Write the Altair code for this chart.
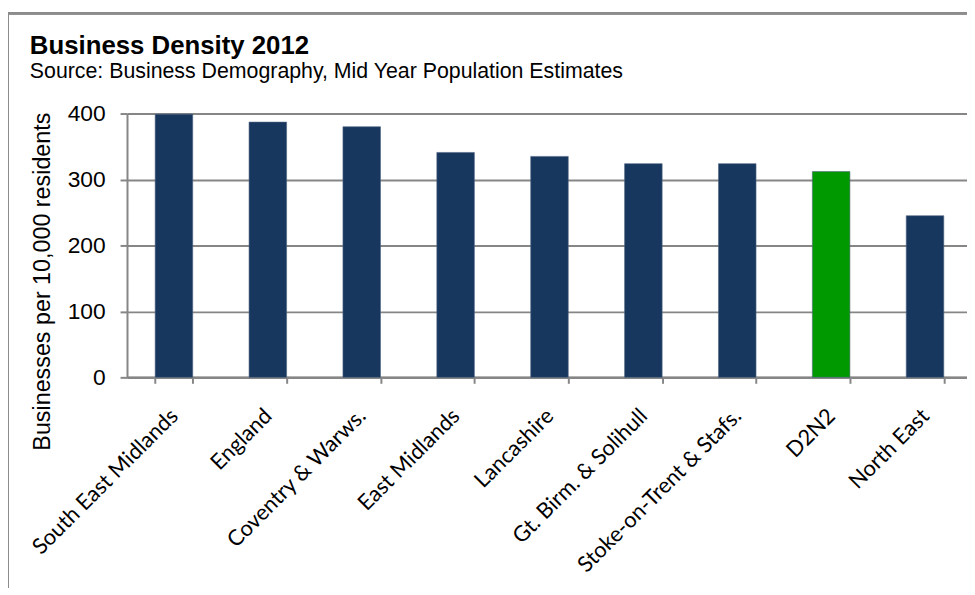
import altair as alt
import pandas as pd

regions = ["South East Midlands", "England", "Coventry & Warws.", "East Midlands",
           "Lancashire", "Gt. Birm. & Solihull", "Stoke-on-Trent & Stafs.", "D2N2", "North East"]
density = [399, 387, 380, 341, 335, 324, 324, 312, 245]
y_ticks = [0, 100, 200, 300, 400]

df = pd.DataFrame({"region": regions, "density": density})

NAVY = "#17375E"
GREEN = "#009900"
GRAY = "#868686"

bars = alt.Chart(df).mark_bar(stroke="#4f6382", strokeWidth=0.6).encode(
    x=alt.X("region:N", sort=regions,
            scale=alt.Scale(range=[0, 852], paddingInner=0.6, paddingOuter=0.3),
            axis=alt.Axis(title=None, labelAngle=-45, labelAlign="right", labelBaseline="middle",
                          labelFont="Lato", labelFontSize=22, labelColor="#000000",
                          labelPadding=29, tickBand="extent", tickSize=6, tickColor=GRAY,
                          tickWidth=2, domainColor=GRAY, domainWidth=2.5, grid=False,
                          labelOverlap=False, labelLimit=0)),
    y=alt.Y("density:Q", scale=alt.Scale(domain=[0, 400], nice=False),
            axis=alt.Axis(title="Businesses per 10,000 residents", values=y_ticks,
                          titleFont="Liberation Sans", titleFontSize=23.5, titleFontWeight="normal",
                          titleColor="#000000", titleX=-85, titleY=169, titleAngle=270,
                          titleAlign="center", titleBaseline="middle",
                          labelFont="Liberation Sans", labelFontSize=23, labelColor="#000000",
                          labelPadding=15, tickSize=7, tickColor=GRAY, tickWidth=2,
                          domainColor=GRAY, domainWidth=2, gridColor=GRAY, gridWidth=2)),
    color=alt.condition(alt.datum.region == "D2N2", alt.value(GREEN), alt.value(NAVY)),
)

left_border = alt.Chart(df).mark_rule(color="#8c8c8c", strokeWidth=2).encode(
    x=alt.value(-120), y=alt.value(-101), y2=alt.value(480))
top_border = alt.Chart(df).mark_rule(color="#8c8c8c", strokeWidth=2).encode(
    x=alt.value(-121), x2=alt.value(860), y=alt.value(-101))

chart = alt.layer(bars, left_border, top_border).properties(
    width=847, height=266,
    autosize=alt.AutoSizeParams(type="none"),
    padding={"left": 120, "top": 104, "right": 0, "bottom": 210},
    title=alt.TitleParams(
        text="Business Density 2012",
        subtitle="Source: Business Demography,  Mid Year Population Estimates",
        anchor="start", frame="group", dx=-98, offset=0, dy=71,
        font="Liberation Sans", fontSize=26, fontWeight="bold", color="#000000",
        subtitleFont="Liberation Sans", subtitleFontSize=21.5, subtitleColor="#000000",
        subtitlePadding=3),
).configure_view(stroke=None).configure(background="white")

chart.save("out.html", embed_options={"renderer": "svg", "actions": False})
